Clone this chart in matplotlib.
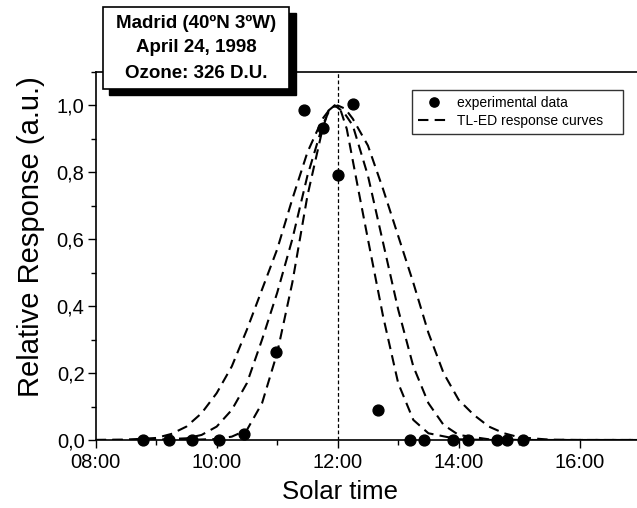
import matplotlib
matplotlib.use("Agg")
import matplotlib.pyplot as plt
from matplotlib.patches import Rectangle
from matplotlib.ticker import MultipleLocator, FuncFormatter

plt.rcParams['font.family'] = ['Liberation Sans', 'DejaVu Sans']

# experimental data (solar time in hours, relative response)
exp_time = [8.79, 9.22, 9.60, 10.04, 10.45, 10.98, 11.44, 11.76, 12.00,
            12.26, 12.67, 13.20, 13.43, 13.91, 14.16, 14.63, 14.80, 15.06]
exp_resp = [0.0, 0.0, 0.0, 0.0, 0.018, 0.263, 0.985, 0.933, 0.792,
            1.005, 0.09, 0.0, 0.0, 0.0, 0.0, 0.0, 0.0, 0.0]

# TL-ED response curves
wide_time = [8.0, 8.5, 9.0, 9.25, 9.5, 9.75, 10.0, 10.25, 10.5, 10.75, 11.0,
             11.25, 11.5, 11.75, 11.875, 12.0, 12.125, 12.25, 12.5, 12.75,
             13.0, 13.25, 13.5, 13.75, 14.0, 14.25, 14.5, 14.75, 15.0, 15.5,
             16.0, 17.0]
wide_resp = [0.0, 0.001, 0.006, 0.018, 0.04, 0.08, 0.14, 0.22, 0.33, 0.45,
             0.57, 0.72, 0.86, 0.96, 0.99, 1.0, 0.99, 0.96, 0.88, 0.75, 0.61,
             0.47, 0.32, 0.20, 0.12, 0.075, 0.04, 0.02, 0.008, 0.001, 0.0, 0.0]

mid_time = [8.0, 8.5, 9.0, 9.5, 9.75, 10.0, 10.25, 10.5, 10.75, 11.0, 11.25,
            11.5, 11.75, 11.85, 11.95, 12.1, 12.25, 12.5, 12.75, 13.0, 13.25,
            13.5, 13.75, 14.0, 14.5, 15.0, 17.0]
mid_resp = [0.0, 0.0, 0.001, 0.005, 0.015, 0.04, 0.09, 0.17, 0.30, 0.44,
            0.60, 0.79, 0.94, 0.98, 1.0, 0.98, 0.94, 0.79, 0.59, 0.39, 0.22,
            0.11, 0.045, 0.015, 0.002, 0.0, 0.0]

narrow_time = [8.0, 9.5, 10.0, 10.25, 10.5, 10.75, 11.0, 11.25, 11.5, 11.75,
               11.85, 11.95, 12.05, 12.15, 12.35, 12.5, 12.75, 13.0, 13.25,
               13.5, 14.0, 14.5, 17.0]
narrow_resp = [0.0, 0.0, 0.003, 0.01, 0.03, 0.11, 0.26, 0.47, 0.73, 0.93,
               0.985, 1.0, 0.985, 0.93, 0.74, 0.60, 0.37, 0.17, 0.06, 0.02,
               0.002, 0.0, 0.0]

noon = 12.0
info_lines = ["Madrid (40ºN 3ºW)", "April 24, 1998", "Ozone: 326 D.U."]

W, H = 637.0, 508.0
fig = plt.figure(figsize=(6.37, 5.08), dpi=100)
ax = fig.add_axes([0.1502, 0.1339, 0.8548, 0.7244])

dash = (0, (5, 3))
ax.plot(wide_time, wide_resp, color='black', lw=1.5, linestyle=dash,
        label='TL-ED response curves')
ax.plot(mid_time, mid_resp, color='black', lw=1.5, linestyle=dash)
ax.plot(narrow_time, narrow_resp, color='black', lw=1.5, linestyle=dash)
ax.plot(exp_time, exp_resp, 'o', color='black', markersize=7.8,
        label='experimental data', clip_on=False, zorder=5)
ax.axvline(noon, color='black', lw=0.9, linestyle=(0, (3, 2)))

ax.set_xlim(8, 17)
ax.set_ylim(0, 1.1)
ax.xaxis.set_major_locator(MultipleLocator(2))
ax.xaxis.set_minor_locator(MultipleLocator(1))
ax.yaxis.set_major_locator(MultipleLocator(0.2))
ax.yaxis.set_minor_locator(MultipleLocator(0.1))
ax.xaxis.set_major_formatter(FuncFormatter(lambda v, p: f"{int(v):02d}:00"))
ax.yaxis.set_major_formatter(FuncFormatter(lambda v, p: f"{v:.1f}".replace('.', ',')))
ax.tick_params(which='major', direction='out', length=6, width=1, labelsize=14.5)
ax.tick_params(which='minor', direction='out', length=3.3, width=1)
ax.tick_params(axis='y', pad=2)
for s in ['left', 'bottom', 'top']:
    ax.spines[s].set_linewidth(1.2)
ax.spines['right'].set_visible(False)

ax.set_xlabel('Solar time', fontsize=18.5)
ax.set_ylabel('Relative Response (a.u.)', fontsize=21)
ax.xaxis.set_label_coords(0.449, -0.108)
ax.yaxis.set_label_coords(-0.093, 0.553)

handles, labels = ax.get_legend_handles_labels()
leg = ax.legend(handles[::-1], labels[::-1], loc='upper left', mode='expand',
                bbox_to_anchor=(412 / W, (H - 134) / H, 211 / W, 44 / H),
                bbox_transform=fig.transFigure,
                borderaxespad=0, fancybox=False, edgecolor='black',
                fontsize=10, handlelength=2.3, handletextpad=0.5,
                borderpad=0.45, labelspacing=0.25, markerscale=0.85)
leg.get_frame().set_linewidth(1.0)

# info box with shadow
fig.add_artist(Rectangle((109 / W, (H - 95) / H), 187 / W, 82 / H,
                         transform=fig.transFigure, facecolor='black',
                         edgecolor='black', zorder=10))
fig.add_artist(Rectangle((103 / W, (H - 89) / H), 186 / W, 82 / H,
                         transform=fig.transFigure, facecolor='white',
                         edgecolor='black', lw=1.2, zorder=11))
for i, line in enumerate(info_lines):
    fig.text(196 / W, (H - (23 + 25 * i)) / H, line, ha='center', va='center',
             fontsize=13.5, fontweight='bold', zorder=12)

fig.savefig('out.png', dpi=100)
